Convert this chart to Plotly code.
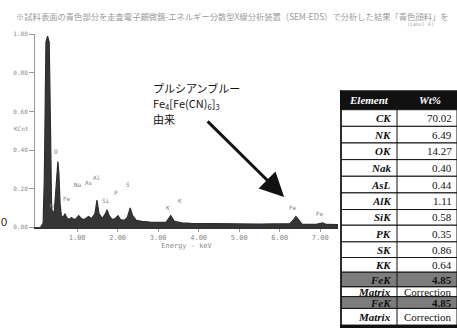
import plotly.graph_objects as go

W, H = 457, 331

# EDS spectrum (energy in keV, counts normalised to full scale)
energy_kev = [0.10, 0.16, 0.19, 0.21, 0.23, 0.27, 0.31, 0.33, 0.35, 0.37, 0.39, 0.41, 0.44,
              0.47, 0.50, 0.525, 0.55, 0.58, 0.61, 0.65, 0.70, 0.74, 0.80, 0.86, 0.92, 0.98,
              1.04, 1.10, 1.18, 1.28, 1.36, 1.44, 1.49, 1.54, 1.62, 1.70, 1.74, 1.79, 1.86,
              1.94, 2.01, 2.07, 2.16, 2.24, 2.31, 2.37, 2.46, 2.60, 2.80, 3.00, 3.20, 3.31,
              3.40, 3.59, 3.80, 4.00, 4.50, 5.00, 5.50, 6.00, 6.25, 6.35, 6.40, 6.46, 6.55,
              6.90, 7.06, 7.15, 7.44]
counts = [0.0, 0.02, 0.25, 0.75, 0.96, 0.99, 0.96, 0.70, 0.30, 0.10, 0.08, 0.07, 0.09,
          0.18, 0.30, 0.34, 0.28, 0.12, 0.06, 0.05, 0.07, 0.05, 0.04, 0.05, 0.04, 0.045,
          0.06, 0.045, 0.04, 0.055, 0.045, 0.07, 0.14, 0.07, 0.045, 0.07, 0.09, 0.06, 0.04,
          0.045, 0.06, 0.04, 0.035, 0.05, 0.10, 0.06, 0.035, 0.03, 0.027, 0.025, 0.027, 0.06,
          0.03, 0.022, 0.02, 0.019, 0.018, 0.017, 0.016, 0.016, 0.018, 0.04, 0.055, 0.04, 0.016,
          0.015, 0.022, 0.014, 0.013]

# peak identifications (label, energy, label height)
peak_labels = ["C", "N", "O", "Fe", "Na", "As", "Al", "Si", "P", "S", "K", "K", "Fe", "Fe"]
peak_label_x = [0.26, 0.38, 0.48, 0.75, 1.03, 1.30, 1.49, 1.72, 1.96, 2.26, 3.25, 3.55, 6.33, 7.00]
peak_label_y = [1.01, 0.11, 0.39, 0.15, 0.22, 0.23, 0.26, 0.14, 0.18, 0.22, 0.10, 0.14, 0.10, 0.07]

x_tick_vals = [1, 2, 3, 4, 5, 6, 7]
x_tick_text = ["1.00", "2.00", "3.00", "4.00", "5.00", "6.00", "7.00"]
y_tick_vals = [0, 0.2, 0.4, 0.6, 0.8, 1.0]
y_tick_text = ["0.00", "0.20", "0.40", "0.60", "0.80", "1.00"]

# quantitative result table
table_elements = ["CK", "NK", "OK", "Nak", "AsL", "AlK", "SiK", "PK", "SK", "KK",
                  "FeK", "Matrix", "FeK", "Matrix"]
table_wt = ["70.02", "6.49", "14.27", "0.40", "0.44", "1.11", "0.58", "0.35", "0.86", "0.64",
            "4.85", "Correction", "4.85", "Correction"]
table_shaded = [False] * 10 + [True, False, True, False]

# table geometry (pixels)
row_edges = [88, 108, 125, 142, 159, 176, 193, 210, 226, 243, 259, 274, 289, 299, 311, 328]
tab_left, tab_mid, tab_right = 340, 397, 457


def px(x):
    return x / W


def py(y):
    return 1 - y / H


def note(x, y, text, size, color, family, xanchor="center"):
    return dict(x=px(x), y=py(y), xref="paper", yref="paper", text=text,
                xanchor=xanchor, yanchor="middle", showarrow=False,
                font=dict(size=size, color=color, family=family))


fig = go.Figure()
fig.add_trace(go.Scatter(
    x=energy_kev, y=counts, mode="lines", fill="tozeroy",
    line=dict(color="#2e2e2e", width=1.2), fillcolor="#353535",
    hoverinfo="skip", showlegend=False,
))

annotations = []
mono = "DejaVu Sans Mono"
for t, xv, yv in zip(peak_labels, peak_label_x, peak_label_y):
    annotations.append(dict(x=xv, y=yv, xref="x", yref="y", text=t, showarrow=False,
                            xanchor="center", yanchor="middle",
                            font=dict(size=6, color="#808080", family=mono)))

# y-axis unit label and stray digit on the left edge
annotations.append(note(21, 127, "KCnt", 6, "#8a8a8a", mono))
annotations.append(note(4, 223, "0", 11, "#222222", "Liberation Sans"))

# caption line
annotations.append(note(
    232, 12,
    "※試料表面の青色部分を走査電子顕微鏡-エネルギー分散型X線分析装置（SEM-EDS）で分析した結果「青色顔料」を",
    8.3, "#9a9a9a", "Noto Sans CJK JP"))
annotations.append(note(420, 20, "(Label A)", 5, "#aaaaaa", mono))

# pigment note and arrow
jp = "Noto Sans CJK JP"
for txt, yy in [("プルシアンブルー", 86), ("Fe<sub>4</sub>[Fe(CN)<sub>6</sub>]<sub>3</sub>", 102),
                ("由来", 117)]:
    annotations.append(note(151, yy, txt, 11, "#111111", jp, xanchor="left"))
annotations.append(dict(x=6.11, y=0.157, xref="x", yref="y", text="", showarrow=True,
                        ax=-78, ay=-77, arrowhead=2, arrowsize=1.6, arrowwidth=3,
                        arrowcolor="#111111", standoff=0))

# table
shapes = []
serif = "Liberation Serif"
head_mid = (row_edges[0] + row_edges[1]) / 2
shapes.append(dict(type="rect", xref="paper", yref="paper", x0=px(tab_left), x1=px(tab_right),
                   y0=py(row_edges[1]), y1=py(row_edges[0]), fillcolor="#111111",
                   line=dict(width=0), layer="above"))
annotations.append(note(369, head_mid, "<b><i>Element</i></b>", 11, "white", serif))
annotations.append(note(430, head_mid, "<b><i>Wt%</i></b>", 11, "white", serif))

for i, (el, wt, shaded) in enumerate(zip(table_elements, table_wt, table_shaded)):
    top, bot = row_edges[i + 1], row_edges[i + 2]
    fill = "#7c7c7c" if shaded else "white"
    shapes.append(dict(type="rect", xref="paper", yref="paper", x0=px(tab_left + 1),
                       x1=px(tab_right), y0=py(bot), y1=py(top), fillcolor=fill,
                       line=dict(color="#111111", width=1), layer="above"))
    ymid = (top + bot) / 2
    annotations.append(note(393, ymid, "<b><i>%s</i></b>" % el, 11, "#111111", serif,
                            xanchor="right"))
    wt_text = "<b>%s</b>" % wt if shaded else wt
    annotations.append(note(454, ymid, wt_text, 11, "#111111", serif, xanchor="right"))

# column divider, outer frame and closing bar
shapes.append(dict(type="line", xref="paper", yref="paper", x0=px(tab_mid), x1=px(tab_mid),
                   y0=py(row_edges[-1]), y1=py(row_edges[1]),
                   line=dict(color="#111111", width=1), layer="above"))
shapes.append(dict(type="line", xref="paper", yref="paper", x0=px(tab_left + 1), x1=px(tab_left + 1),
                   y0=py(H), y1=py(row_edges[0]),
                   line=dict(color="#111111", width=1.5), layer="above"))
shapes.append(dict(type="rect", xref="paper", yref="paper", x0=px(tab_left), x1=px(tab_right),
                   y0=py(H), y1=py(row_edges[-1]), fillcolor="#111111",
                   line=dict(width=0), layer="above"))

fig.update_layout(
    width=W, height=H, margin=dict(l=0, r=0, t=0, b=0),
    paper_bgcolor="white", plot_bgcolor="white",
    showlegend=False, annotations=annotations, shapes=shapes,
    xaxis=dict(domain=[px(35), px(338)], range=[-0.04, 7.44], tickvals=x_tick_vals,
               ticktext=x_tick_text, ticks="outside", ticklen=3, tickcolor="#999999",
               showline=True, linecolor="#333333", linewidth=1.5, showgrid=False,
               zeroline=False, tickfont=dict(size=7, color="#888888", family=mono),
               title=dict(text="Energy - keV", font=dict(size=7, color="#888888", family=mono),
                          standoff=0)),
    yaxis=dict(domain=[(H - 228) / H, (H - 31) / H], range=[0, 1.0], tickvals=y_tick_vals,
               ticktext=y_tick_text, ticks="outside", ticklen=5, tickcolor="#999999",
               showline=True, linecolor="#999999", linewidth=1, showgrid=False,
               zeroline=False, tickfont=dict(size=6, color="#8a8a8a", family=mono)),
)

fig.write_html("out.html")
